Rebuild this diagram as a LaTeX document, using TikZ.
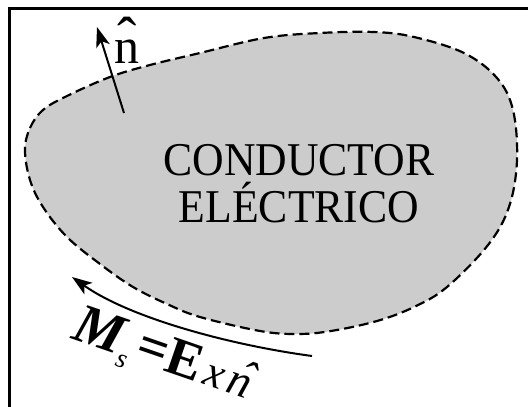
\documentclass[tikz,border=0pt]{standalone}
\usepackage{fontspec}
\setmainfont{Liberation Serif}
\usetikzlibrary{arrows.meta}
\begin{document}
\begin{tikzpicture}[x=1pt,y=-1pt,
  blob/.style={fill=black!20, draw=black, line width=2.2pt, dash pattern=on 10pt off 5pt},
  arr/.style={line width=2pt, -{Stealth[length=20pt,width=14pt,inset=5pt]}},
  frame/.style={line width=3.2pt},
  big/.style={font=\fontsize{47}{47}\selectfont, xscale=0.93, transform shape, inner sep=0pt, anchor=base}]
\useasboundingbox (0,0) rectangle (528,407);
\draw[frame] (9.5,407) -- (9.5,8.5) -- (528,8.5);
\draw[blob] plot[smooth cycle, tension=0.6] coordinates {
 (25,150) (30,128) (43,110) (67,96) (110,77) (150,65) (200,53) (264,38) (320,33) (374,32) (414,37) (464,53) (497,78) (513,110) (517,160) (509,207) (488,245) (447,287) (414,307) (377,321) (331,331) (297,334) (260,331) (200,317) (167,304) (133,287) (100,264) (67,237) (43,207) (30,180)};
\node[big] (cond1) at (299,175) {CONDUCTOR};
\node[big] (cond2) at (299,222) {ELÉCTRICO};
% normal vector
\coordinate (ntail) at (124,113);
\coordinate (ntip) at (97,27);
\draw[arr] (ntail) -- (ntip);
\node[font=\fontsize{50}{50}\selectfont, inner sep=0pt, anchor=base] (nlab) at (127,63) {n};
\node[font=\fontsize{58}{58}\selectfont, inner sep=0pt, anchor=base] (nhat) at (127,57) {ˆ};
% surface current arrow
\coordinate (mstart) at (312,356);
\coordinate (mend) at (72,277);
\draw[arr] (mstart) .. controls (230,345) and (130,318) .. (mend);
\node[rotate=-19, inner sep=0pt, anchor=base west] (mlab) at (70,338)
 {{\fontsize{56}{56}\selectfont\bfseries\itshape M}\hspace{1pt}{\fontsize{27}{27}\selectfont\itshape\raisebox{-11pt}{s}}\hspace{6pt}{\fontsize{54}{54}\selectfont\bfseries =E}\hspace{5pt}{\fontsize{44}{44}\selectfont\itshape x}\hspace{5pt}{\fontsize{46}{46}\selectfont\itshape\rlap{\hspace{8pt}\raisebox{5pt}{ˆ}}n}};
\end{tikzpicture}
\end{document}
